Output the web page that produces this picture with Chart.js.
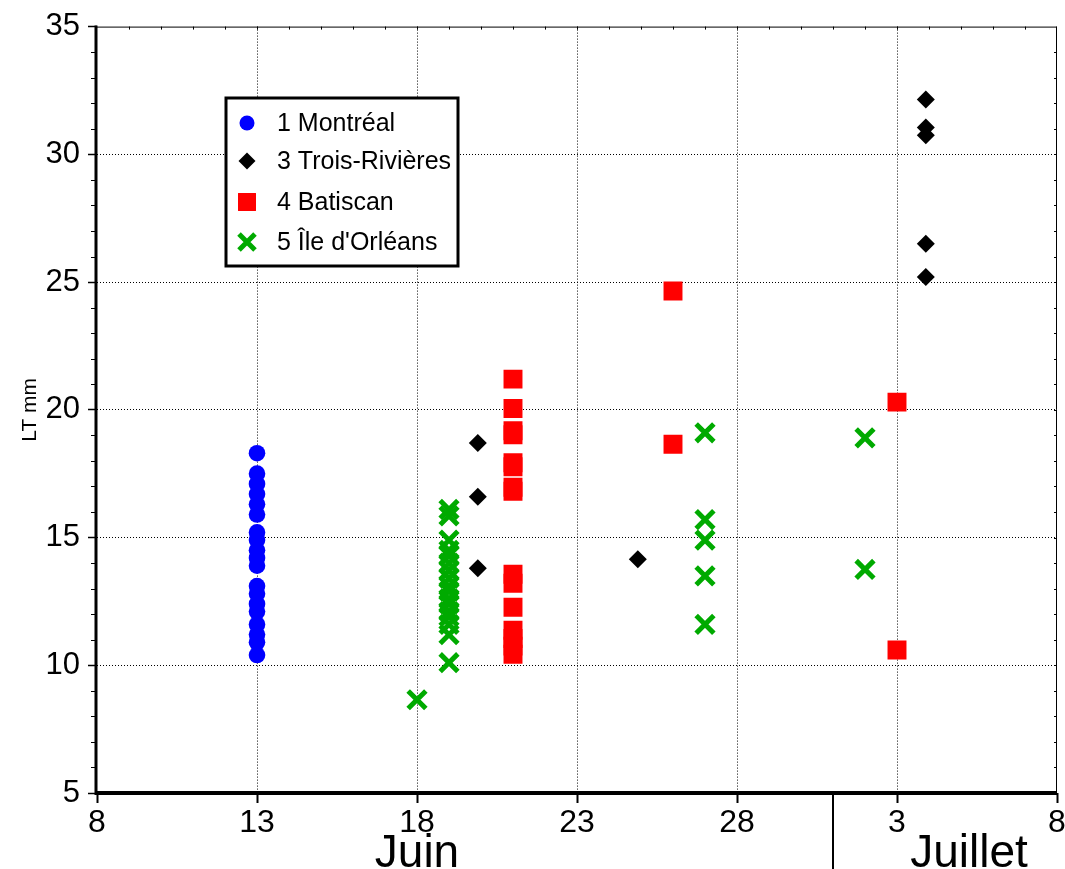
<!DOCTYPE html>
<html>
<head>
<meta charset="utf-8">
<script src="https://cdn.jsdelivr.net/npm/chart.js@4.4.1/dist/chart.umd.min.js"></script>
<style>
  html, body { margin: 0; padding: 0; background: #fff; }
  #wrap { width: 1065px; height: 869px; }
</style>
</head>
<body>
<div id="wrap"><canvas id="c" width="1065" height="869"></canvas></div>
<script>
// Day numbers are counted from 1 June: 31 = 1 July.
const JUNE_LENGTH = 30;
const dayMin = 8;
const dayMax = 38;
const xTickDays = [8, 13, 18, 23, 28, 33, 38];
const yTickValues = [5, 10, 15, 20, 25, 30, 35];
const monthNames = ['Juin', 'Juillet'];
const yTitle = 'LT mm';

const seriesNames = ['1 Montréal', '3 Trois-Rivières', '4 Batiscan', "5 Île d'Orléans"];

// 1 Montréal
const montrealDays = [13, 13, 13, 13, 13, 13, 13, 13, 13, 13, 13, 13, 13, 13, 13, 13, 13, 13, 13];
const montrealLT = [18.3, 17.5, 17.1, 16.7, 16.3, 15.9, 15.2, 14.9, 14.5, 14.2, 13.9, 13.1, 12.8, 12.4, 12.1, 11.6, 11.2, 10.9, 10.4];

// 3 Trois-Rivières
const troisRivieresDays = [19.9, 19.9, 19.9, 24.9, 33.9, 33.9, 33.9, 33.9, 33.9];
const troisRivieresLT = [18.7, 16.6, 13.8, 14.15, 32.15, 31.05, 30.75, 26.5, 25.2];

// 4 Batiscan
const batiscanDays = [21, 21, 21, 21, 21, 21, 21, 21, 21, 21, 21, 21, 21, 21, 21, 26, 26, 33, 33];
const batiscanLT = [21.2, 20.05, 19.18, 19.02, 17.93, 17.77, 16.97, 16.81, 13.56, 13.21, 12.27, 11.37, 11.05, 10.75, 10.43, 24.65, 18.65, 20.3, 10.6];

// 5 Île d'Orléans
const orleansDays = [18, 19, 19, 19, 19, 19, 19, 19, 19, 19, 19, 19, 19, 19, 19, 19, 19, 19, 27, 27, 27, 27, 27, 32, 32];
const orleansLT = [8.65, 16.1, 15.85, 14.9, 14.5, 14.3, 14.0, 13.7, 13.4, 13.1, 12.9, 12.6, 12.4, 12.1, 11.9, 11.6, 11.2, 10.1, 19.1, 15.7, 14.9, 13.5, 11.6, 18.9, 13.75];

const toPoints = (days, values) => days.map((d, i) => ({ x: d, y: values[i] }));

const seriesStyles = [
  { pointStyle: 'circle',   radius: 8.3,  fill: '#0000ff', stroke: '#0000ff', width: 0 },
  { pointStyle: 'rectRot',  radius: 9,    fill: '#000000', stroke: '#000000', width: 0 },
  { pointStyle: 'rect',     radius: 13.4, fill: '#ff0000', stroke: '#ff0000', width: 0 },
  { pointStyle: 'crossRot', radius: 12.5, fill: '#00aa00', stroke: '#00aa00', width: 5 }
];
const seriesPoints = [
  toPoints(montrealDays, montrealLT),
  toPoints(troisRivieresDays, troisRivieresLT),
  toPoints(batiscanDays, batiscanLT),
  toPoints(orleansDays, orleansLT)
];

const datasets = seriesNames.map((name, i) => ({
  label: name,
  data: seriesPoints[i],
  showLine: false,
  pointStyle: seriesStyles[i].pointStyle,
  pointRadius: seriesStyles[i].radius,
  pointHoverRadius: seriesStyles[i].radius,
  backgroundColor: seriesStyles[i].fill,
  borderColor: seriesStyles[i].stroke,
  pointBorderWidth: seriesStyles[i].width,
  borderWidth: seriesStyles[i].width
}));

const dayLabel = d => String(d > JUNE_LENGTH ? d - JUNE_LENGTH : d);

function strokeLine(ctx, x1, y1, x2, y2) {
  ctx.beginPath();
  ctx.moveTo(x1, y1);
  ctx.lineTo(x2, y2);
  ctx.stroke();
}

// Frame, axes, minor ticks, day labels, month band and the boxed legend.
const decorPlugin = {
  id: 'decor',
  afterDraw(chart) {
    const ctx = chart.ctx;
    const { left, right, top, bottom } = chart.chartArea;
    const xs = chart.scales.x;
    const ys = chart.scales.y;
    ctx.save();
    ctx.strokeStyle = '#000';
    ctx.fillStyle = '#000';
    ctx.setLineDash([]);

    // thin top and right frame
    ctx.lineWidth = 1;
    strokeLine(ctx, left, top + 0.5, right, top + 0.5);
    strokeLine(ctx, right - 0.5, top, right - 0.5, bottom);

    // small day ticks along the top edge
    for (let d = dayMin + 1; d < dayMax; d++) {
      const px = Math.round(xs.getPixelForValue(d)) + 0.5;
      strokeLine(ctx, px, top, px, top + 3);
    }
    // small ticks along the right edge
    for (let v = 6; v < 35; v++) {
      const py = Math.round(ys.getPixelForValue(v)) + 0.5;
      strokeLine(ctx, right, py, right - 3, py);
    }

    // left axis: thick line with minor ticks every millimetre
    ctx.lineWidth = 3;
    strokeLine(ctx, left - 1, top - 1, left - 1, bottom + 2);
    ctx.lineWidth = 1;
    for (let v = 6; v < 35; v++) {
      if (v % 5 === 0) continue;
      const py = Math.round(ys.getPixelForValue(v)) + 0.5;
      strokeLine(ctx, left - 2, py, left - 6, py);
    }

    // bottom axis: thick line
    ctx.lineWidth = 4;
    strokeLine(ctx, left - 2, bottom, right, bottom);

    // day labels under the axis
    ctx.font = '32px "Liberation Sans Narrow", "Liberation Sans", Arial, sans-serif';
    ctx.textAlign = 'center';
    ctx.textBaseline = 'alphabetic';
    xs.ticks.forEach(t => {
      ctx.fillText(dayLabel(t.value), xs.getPixelForValue(t.value), 832);
    });

    // month separator and month names
    const sepX = Math.round(xs.getPixelForValue(JUNE_LENGTH + 1));
    ctx.lineWidth = 2;
    strokeLine(ctx, sepX, bottom, sepX, chart.height);
    ctx.font = '46px "Liberation Sans Narrow", "Liberation Sans", Arial, sans-serif';
    ctx.fillText(monthNames[0], xs.getPixelForValue(18), 867);
    ctx.fillText(monthNames[1], xs.getPixelForValue(35.25), 867);

    // legend box
    const box = { x: 226, y: 98, w: 232, h: 168 };
    ctx.fillStyle = '#fff';
    ctx.fillRect(box.x, box.y, box.w, box.h);
    ctx.lineWidth = 3;
    ctx.strokeStyle = '#000';
    ctx.strokeRect(box.x, box.y, box.w, box.h);
    const rowY = [123, 161, 202, 242];
    const legendRadius = [7.5, 8.5, 12.7, 11.3];
    seriesNames.forEach((name, i) => {
      const st = seriesStyles[i];
      ctx.fillStyle = st.fill;
      ctx.strokeStyle = st.stroke;
      ctx.lineWidth = st.width;
      Chart.helpers.drawPoint(ctx, {
        pointStyle: st.pointStyle,
        radius: legendRadius[i],
        borderWidth: st.width,
        rotation: 0
      }, box.x + 21, rowY[i]);
      ctx.fillStyle = '#000';
      ctx.font = '25px "Liberation Sans", Arial, sans-serif';
      ctx.textAlign = 'left';
      ctx.textBaseline = 'middle';
      ctx.fillText(name, box.x + 51, rowY[i] + 1);
    });
    ctx.restore();
  }
};

const edgeTransparent = (edgeValues) => (c) =>
  (c.tick && edgeValues.includes(c.tick.value)) ? 'rgba(0,0,0,0)' : '#000';

new Chart(document.getElementById('c'), {
  type: 'scatter',
  data: { datasets },
  options: {
    responsive: false,
    devicePixelRatio: 1,
    animation: false,
    layout: { autoPadding: false, padding: { left: 0, right: 8, top: 23, bottom: 0 } },
    plugins: {
      legend: { display: false },
      tooltip: { enabled: false },
      title: { display: false }
    },
    scales: {
      x: {
        type: 'linear',
        position: 'bottom',
        min: dayMin,
        max: dayMax,
        afterBuildTicks: s => { s.ticks = xTickDays.map(v => ({ value: v })); },
        afterFit: s => { s.height = 76; },
        ticks: { display: false },
        grid: {
          color: edgeTransparent([dayMin, dayMax]),
          lineWidth: 1,
          drawTicks: true,
          tickLength: 10,
          tickColor: '#000',
          tickWidth: 2,
          tickBorderDash: []
        },
        border: { display: false, dash: [1, 2] }
      },
      y: {
        type: 'linear',
        position: 'left',
        min: 5,
        max: 35,
        afterBuildTicks: s => { s.ticks = yTickValues.map(v => ({ value: v })); },
        afterFit: s => { s.width = 97; },
        ticks: {
          color: '#000',
          padding: 8,
          font: { family: '"Liberation Sans", Arial, sans-serif', size: 31 }
        },
        title: {
          display: true,
          text: yTitle,
          color: '#000',
          padding: { top: 18, bottom: 0 },
          font: { family: '"Liberation Sans", Arial, sans-serif', size: 21 }
        },
        grid: {
          color: edgeTransparent([5, 35]),
          lineWidth: 1,
          drawTicks: true,
          tickLength: 9,
          tickColor: '#000',
          tickWidth: 1.5,
          tickBorderDash: []
        },
        border: { display: false, dash: [1, 2] }
      }
    }
  },
  plugins: [decorPlugin]
});
</script>
</body>
</html>
